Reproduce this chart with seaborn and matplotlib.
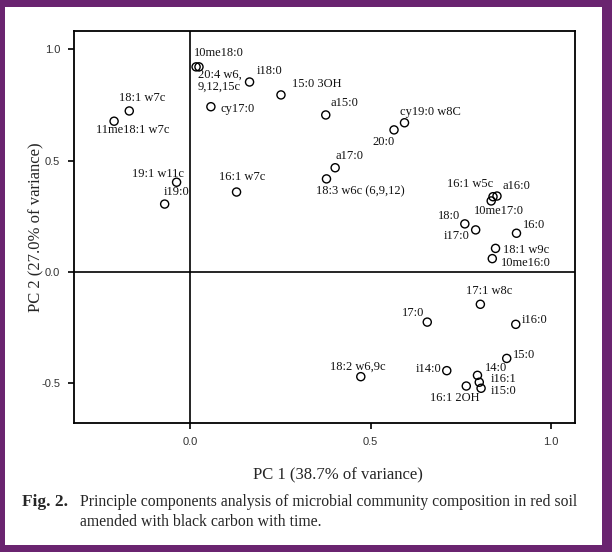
import matplotlib
matplotlib.use("Agg")
import matplotlib.pyplot as plt
from matplotlib.patches import Rectangle
import pandas as pd
import seaborn as sns

# PCA loadings
fatty_acids = [
    "10me18:0", "20:4 w6,\n9,12,15c", "i18:0", "cy17:0", "18:1 w7c", "11me18:1 w7c",
    "19:1 w11c", "i19:0", "16:1 w7c", "15:0 3OH", "a15:0", "cy19:0 w8C", "20:0",
    "a17:0", "18:3 w6c (6,9,12)", "16:1 w5c", "a16:0", "10me17:0", "18:0", "i17:0",
    "16:0", "18:1 w9c", "10me16:0", "17:1 w8c", "17:0", "i16:0", "15:0",
    "18:2 w6,9c", "i14:0", "14:0", "i16:1", "i15:0", "16:1 2OH",
]
pc1 = [
    0.017, 0.025, 0.165, 0.058, -0.168, -0.210, -0.037, -0.070, 0.129, 0.252, 0.376,
    0.594, 0.565, 0.402, 0.378, 0.839, 0.850, 0.834, 0.761, 0.791, 0.904, 0.846,
    0.837, 0.804, 0.657, 0.902, 0.877, 0.473, 0.711, 0.796, 0.801, 0.806, 0.765,
]
pc2 = [
    0.921, 0.921, 0.853, 0.742, 0.723, 0.677, 0.403, 0.305, 0.359, 0.795, 0.705,
    0.670, 0.638, 0.468, 0.418, 0.338, 0.341, 0.319, 0.216, 0.189, 0.174, 0.106,
    0.060, -0.145, -0.225, -0.235, -0.388, -0.470, -0.443, -0.464, -0.495, -0.522,
    -0.512,
]
x_ticks = [0.0, 0.5, 1.0]
y_ticks = [-0.5, 0.0, 0.5, 1.0]
x_title = "PC 1 (38.7% of variance)"
y_title = "PC 2 (27.0% of variance)"
caption_bold = "Fig. 2."
caption_text = ("Principle components analysis of microbial community composition in red soil\n"
                "amended with black carbon with time.")

# label placement (pixels, relative to each point)
label_offsets = [
    (-2, 14), (-1, -13.5), (7.5, 11), (10, -2.6), (-10, 13.3), (-18.3, -8.7),
    (-44.4, 8), (-1.4, 12.3), (-17.7, 15.3), (11.3, 11), (5, 12.3), (-4.3, 11),
    (-21.3, -11.7), (0, 11.7), (-10.6, -12.7), (-46, 12.4), (6, 10.3), (-17.7, -9.7),
    (-27, 8), (-31.7, -6), (6.4, 8.3), (7.4, -1.7), (8.7, -4.6), (-14.6, 13.6),
    (-25.6, 8.7), (6, 4.3), (6, 3.3), (-30.7, 9.7), (-30.7, 2), (7, 7.3),
    (11, 3), (9.7, -2.4), (-36.3, -11.7),
]

df = pd.DataFrame({"label": fatty_acids, "PC1": pc1, "PC2": pc2})

sns.set_theme(style="white")
plt.rcParams["font.family"] = ["Liberation Serif", "DejaVu Serif"]

fig = plt.figure(figsize=(6.12, 5.52), dpi=100)
W, H = 612, 552

# purple frame around the page
fig.patches.append(Rectangle((0, 0), 1, 1, transform=fig.transFigure,
                             facecolor="#6a2470", edgecolor="none", zorder=-10))
fig.patches.append(Rectangle((5 / W, 7 / H), (602 - 5) / W, (545 - 7) / H,
                             transform=fig.transFigure, facecolor="white",
                             edgecolor="none", zorder=-9))

ax = fig.add_axes([74 / W, 1 - 423 / H, (575 - 74) / W, (423 - 31) / H])
ax.set_facecolor("white")

ax.axhline(0, color="black", lw=1.2, zorder=1)
ax.axvline(0, color="black", lw=1.2, zorder=1)

sns.scatterplot(data=df, x="PC1", y="PC2", ax=ax, s=34, marker="o",
                facecolor="none", edgecolor="black", linewidth=1.0, zorder=3)

for name, px, py, (dx, dy) in zip(fatty_acids, pc1, pc2, label_offsets):
    ax.annotate(name, (px, py), xytext=(dx, dy), textcoords="offset pixels",
                ha="left", va="center", fontsize=9, linespacing=1.0,
                color="#111111")

ax.set_xlim(-0.321, 1.066)
ax.set_ylim(-0.678, 1.082)
ax.set_xticks(x_ticks)
ax.set_yticks(y_ticks)
ax.set_xticklabels([f"{v:.1f}" for v in x_ticks], family="Liberation Sans", fontsize=8, color="#333333")
ax.set_yticklabels([f"{v:.1f}" for v in y_ticks], family="Liberation Sans", fontsize=8, color="#333333")
ax.tick_params(axis="both", direction="out", length=4, width=1.2, pad=6,
               bottom=True, left=True, color="black")
for sp in ax.spines.values():
    sp.set_color("black")
    sp.set_linewidth(1.3)

ax.set_xlabel(x_title, fontsize=12)
ax.set_ylabel(y_title, fontsize=12)
ax.xaxis.set_label_coords(0.527, -0.112)
ax.yaxis.set_label_coords(-0.060, 0.5)

fig.text(22 / W, 1 - 502 / H, caption_bold, fontsize=12.5, fontweight="bold",
         va="center", ha="left")
fig.text(80 / W, 1 - 512 / H, caption_text, fontsize=11.3, va="center", ha="left",
         linespacing=1.35)

fig.savefig("out.png", dpi=100)
